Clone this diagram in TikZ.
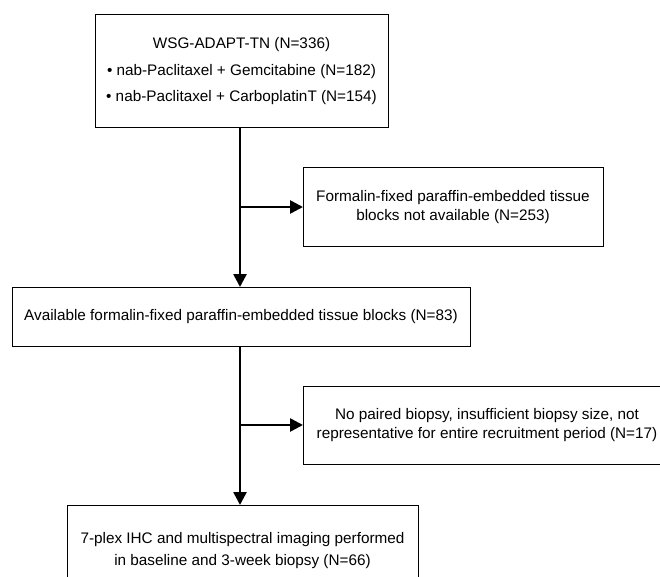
\documentclass[tikz,border=0pt]{standalone}
\usepackage{fontspec}
\setmainfont{Liberation Sans}
\usetikzlibrary{arrows.meta}

\tikzset{
  stage/.style={draw, line width=1pt, rectangle, align=center, inner sep=0pt,
    outer sep=0pt, font=\fontsize{15.3}{18.5}\selectfont},
  flow/.style={line width=2.6pt, -{Triangle[length=13pt, width=13pt]}}
}

\begin{document}
\begin{tikzpicture}[x=1pt, y=-1pt]
  \clip (0,0) rectangle (660,577);

  % study cohort on top
  \node[stage, minimum width=293pt, minimum height=113pt] (cohort) at (241.5,71.5)
    {WSG-ADAPT-TN (N=336)\\[8pt]
     \textbullet{} nab-Paclitaxel + Gemcitabine (N=182)\\[8pt]
     \textbullet{} nab-Paclitaxel + CarboplatinT (N=154)};
  \node[stage, minimum width=300pt, minimum height=78pt] (noblock) at (453,207)
    {Formalin-fixed paraffin-embedded tissue\\blocks not available (N=253)};
  \node[stage, minimum width=458pt, minimum height=59pt] (blocks) at (241,316.5)
    {Available formalin-fixed paraffin-embedded tissue blocks (N=83)};
  \node[stage, minimum width=368pt, minimum height=78pt] (excl) at (487,425)
    {No paired biopsy, insufficient biopsy size, not\\representative for entire recruitment period (N=17)};
  \node[stage, minimum width=351pt, minimum height=92pt,
    font=\fontsize{15.3}{22}\selectfont] (ihc) at (242.5,551)
    {7-plex IHC and multispectral imaging performed\\in baseline and 3-week biopsy (N=66)};

  \coordinate (c1) at (240,128); % below the cohort box
  \coordinate (b1) at (240,207); % branch to the first exclusion
  \coordinate (c2) at (240,346); % below the blocks box
  \coordinate (b2) at (240,425); % branch to the second exclusion

  % main line and branches
  \draw[flow] (c1) -- (c1 |- blocks.north);
  \draw[flow] (b1) -- (noblock.west);
  \draw[flow] (c2) -- (c2 |- ihc.north);
  \draw[flow] (b2) -- (excl.west);
\end{tikzpicture}
\end{document}
